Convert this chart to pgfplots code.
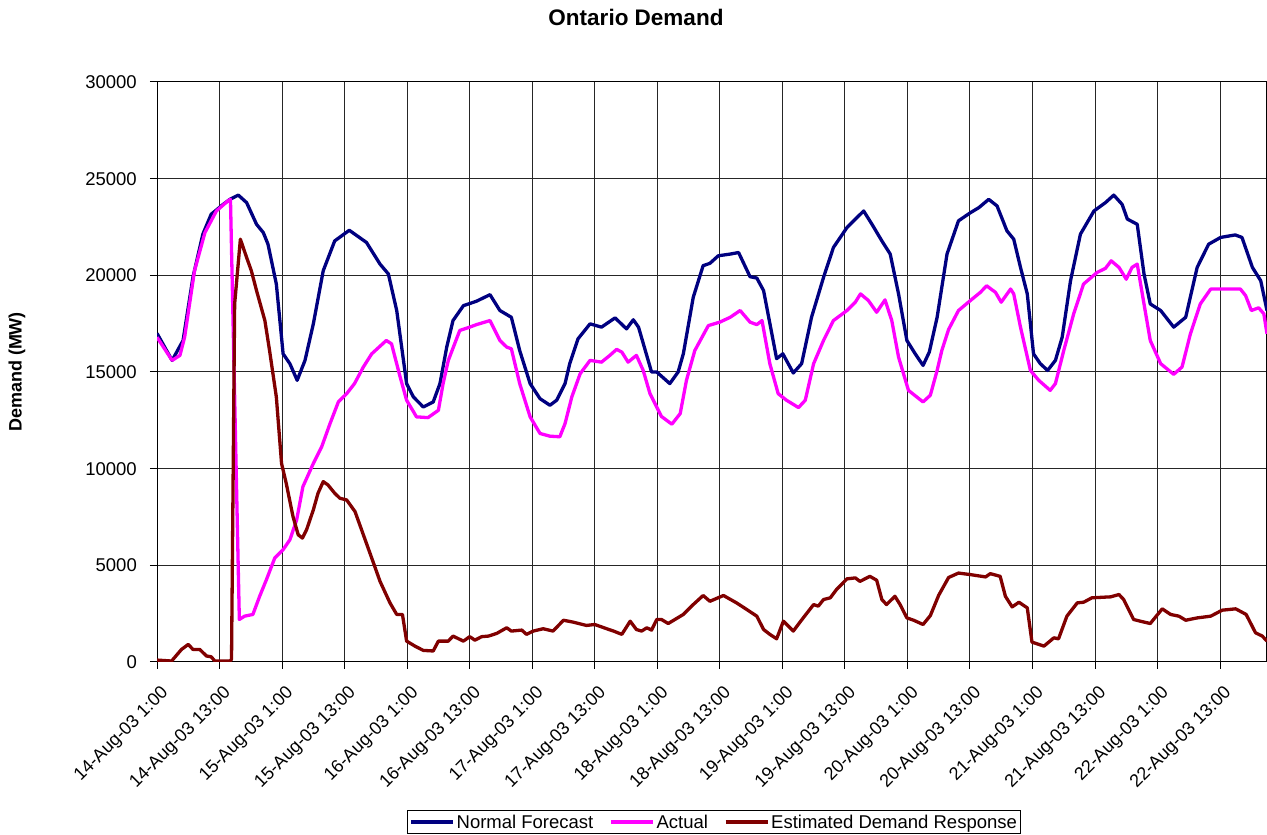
\documentclass[border=0pt]{standalone}
\usepackage{fontspec}
\setmainfont{Liberation Sans}
\usepackage{pgfplots}
\pgfplotsset{compat=1.18}
\definecolor{nf}{RGB}{0,0,128}
\definecolor{act}{RGB}{255,0,255}
\definecolor{edr}{RGB}{128,0,0}
\newcommand\tickfont{\fontsize{18.5}{22}\selectfont}
\newcommand\xtickfont{\fontsize{18}{22}\selectfont}
\begin{document}
\begin{tikzpicture}
\begin{axis}[
  at={(157pt,173pt)}, anchor=south west,
  width=1110pt, height=580pt, scale only axis,
  xmin=0, xmax=213, ymin=0, ymax=30000,
  xtick={0,12,...,204},
  xticklabels={14-Aug-03 1:00,14-Aug-03 13:00,15-Aug-03 1:00,15-Aug-03 13:00,16-Aug-03 1:00,16-Aug-03 13:00,17-Aug-03 1:00,17-Aug-03 13:00,18-Aug-03 1:00,18-Aug-03 13:00,19-Aug-03 1:00,19-Aug-03 13:00,20-Aug-03 1:00,20-Aug-03 13:00,21-Aug-03 1:00,21-Aug-03 13:00,22-Aug-03 1:00,22-Aug-03 13:00},
  ytick={0,5000,...,30000},
  scaled y ticks=false,
  /pgf/number format/1000 sep={},
  /pgf/number format/assume math mode=true,
  yticklabel style={font=\tickfont, anchor=east, inner sep=0pt, xshift=-13pt},
  xticklabel style={font=\xtickfont, rotate=45, anchor=north east, inner sep=1pt, xshift=-8pt, yshift=-12pt},
  tick align=outside, tick pos=left, major tick length=7pt,
  tick style={black, line width=1pt},
  grid=major, major grid style={black!85, line width=1pt},
  axis line style={black, line width=1pt},
  legend style={at={(0.502,-0.276)}, anchor=center, legend columns=3,
    font=\tickfont, draw=black, line width=1pt, inner sep=2pt,
    /tikz/every even column/.append style={column sep=14pt}},
  legend image code/.code={\draw[#1, line width=3.2pt] (0pt,0pt) -- (42pt,0pt);},
  every axis plot/.append style={line width=3.3pt, line join=round},
]
\addplot[nf] coordinates {(0,17000) (2.9,15600) (5,16630) (6.9,19900) (8.8,22130) (10.4,23160) (12.7,23670) (14,23930) (15.6,24150) (17.2,23760) (19.1,22640) (20.4,22210) (21.3,21610) (22.9,19550) (24.2,15940) (25.5,15430) (26.9,14570) (28.4,15600) (30,17490) (31.9,20240) (34.1,21780) (36.9,22330) (40.2,21700) (42.8,20580) (44.4,20070) (46,18180) (47.9,14400) (49.2,13710) (51.1,13190) (53,13450) (54.3,14400) (55.6,16290) (56.8,17660) (58.8,18430) (61.3,18660) (63.9,19000) (65.8,18180) (68,17830) (69.6,16110) (71.6,14400) (73.5,13620) (75.4,13280) (76.7,13540) (78.3,14400) (79.2,15430) (80.8,16720) (83.1,17490) (85.3,17320) (87.9,17800) (90.1,17230) (91.4,17700) (92.4,17320) (94.9,15000) (95.9,15000) (98.4,14400) (100,15000) (101,15940) (102.9,18860) (104.8,20500) (106.1,20620) (107.7,21010) (110,21100) (111.6,21180) (113.8,19930) (115.1,19860) (116.4,19210) (118.9,15690) (120.1,15940) (122.1,14950) (123.7,15430) (125.6,17830) (127.9,19890) (129.8,21440) (132.4,22470) (135.6,23330) (137.2,22640) (139.1,21780) (140.7,21100) (142.3,19040) (143.9,16630) (145.5,15940) (147,15340) (148.2,16030) (149.7,17830) (151.6,21100) (153.8,22820) (156.1,23240) (157.7,23500) (159.6,23930) (161.2,23590) (163.1,22300) (164.4,21870) (165.7,20410) (167,19040) (168.2,15940) (169.5,15430) (170.9,15080) (172.4,15600) (173.7,16800) (175.3,19720) (177.2,22130) (179.8,23330) (182,23760) (183.6,24150) (185.2,23670) (186.2,22910) (188.1,22640) (189.4,20070) (190.6,18520) (192.6,18180) (195.1,17320) (197.4,17830) (199.6,20410) (201.8,21610) (204.1,21960) (206.9,22090) (208.2,21960) (210.2,20410) (211.8,19720) (213,18180)};
\addlegendentry{Normal Forecast}
\addplot[act] coordinates {(0,16800) (2.9,15600) (4.4,15860) (5.3,16800) (7.2,20240) (9.2,22210) (11.4,23330) (13.6,23850) (14.1,23930) (15.8,2200) (16.8,2370) (18.4,2460) (19.7,3400) (21,4260) (22.6,5380) (24.2,5810) (25.5,6320) (26.8,7350) (28,9070) (30,10270) (31.6,11130) (33.2,12330) (34.8,13450) (36.4,13880) (37.9,14400) (39.6,15260) (41.2,15940) (44,16630) (45,16460) (46.6,14800) (47.9,13540) (49.8,12680) (52,12640) (54,13020) (54.9,14400) (55.9,15600) (58.1,17150) (60,17320) (61.3,17450) (63.9,17660) (65.8,16630) (67.1,16290) (68,16200) (69.6,14400) (71.6,12680) (73.5,11820) (75.4,11680) (77.3,11650) (78.3,12330) (79.6,13710) (81.2,14910) (83.1,15600) (85.3,15510) (86.9,15860) (88.2,16170) (89.2,16030) (90.4,15510) (92,15860) (93.3,15080) (94.6,13880) (96.8,12700) (98.8,12300) (100.4,12850) (101.6,14570) (103.2,16110) (105.8,17400) (108,17580) (110,17830) (111.9,18180) (113.8,17580) (115.1,17450) (116.1,17660) (117.6,15430) (119.2,13880) (120.8,13540) (123.1,13160) (124.4,13540) (126,15430) (127.9,16630) (129.8,17660) (132.4,18180) (134,18610) (135,19040) (136.5,18700) (138.1,18090) (139.7,18730) (141,17660) (142.3,15770) (144.2,14050) (147,13450) (148.4,13800) (149.7,15080) (150.6,16110) (151.9,17200) (153.8,18180) (156.1,18700) (158,19120) (159.2,19460) (160.9,19120) (162,18610) (163.8,19290) (164.4,19040) (165.7,17320) (167.6,15080) (169.2,14570) (171.4,14050) (172.4,14400) (174,16110) (175.9,18000) (177.8,19550) (180.4,20150) (182,20360) (183.1,20750) (184.6,20410) (186,19800) (187.1,20410) (188.1,20580) (189.4,18520) (190.6,16630) (192.6,15430) (195.1,14880) (196.7,15260) (198.3,16970) (200.2,18520) (202.2,19290) (204.7,19290) (207.9,19290) (208.9,18950) (210,18180) (211.4,18320) (212.4,18010) (213,16970)};
\addlegendentry{Actual}
\addplot[edr] coordinates {(0,100) (2.8,50) (4.7,650) (6,910) (6.9,650) (8.2,650) (9.5,310) (10.4,270) (11.1,50) (14,50) (14.3,140) (14.9,18520) (16,21870) (17.2,20920) (18.1,20240) (19.1,19210) (20.7,17660) (21.6,16110) (22.9,13710) (23.9,10270) (24.8,9240) (26.1,7520) (27.1,6580) (27.9,6410) (28.7,6840) (30,7870) (30.9,8730) (31.9,9330) (32.8,9160) (34.1,8730) (35.1,8470) (36.4,8380) (38,7780) (39.6,6580) (41.2,5380) (42.8,4170) (44.7,3060) (46,2460) (47.1,2460) (47.9,1080) (49.5,820) (51.1,600) (53,570) (54,1080) (55.9,1080) (56.8,1340) (58.8,1080) (60,1310) (61,1130) (62.3,1310) (63.6,1340) (65.2,1480) (67.1,1770) (68,1600) (70,1650) (70.9,1430) (72.2,1600) (74.1,1720) (76,1600) (78,2160) (79.9,2060) (82.4,1890) (84,1940) (86.3,1720) (87.6,1600) (89.2,1430) (90.8,2110) (92,1680) (93,1600) (94,1770) (94.9,1650) (95.9,2200) (96.8,2200) (98.1,1990) (101,2460) (102.9,2970) (104.8,3440) (106.1,3140) (108.7,3440) (111.2,3060) (113.2,2710) (115.1,2370) (116.4,1680) (117.6,1430) (118.9,1200) (120.2,2110) (122.1,1600) (124,2280) (126,2970) (126.9,2890) (127.9,3230) (129.2,3320) (130.4,3750) (132.4,4300) (134,4350) (134.9,4170) (136.8,4430) (138.1,4230) (139.1,3230) (140,2970) (141.6,3400) (142.6,2970) (143.9,2280) (145.2,2160) (147,1940) (148.4,2400) (150,3450) (151.9,4370) (153.8,4600) (156.1,4520) (159,4400) (159.9,4570) (161.8,4430) (162.8,3400) (164.1,2850) (165.4,3090) (167,2800) (167.9,1030) (170.2,820) (172.1,1250) (173,1200) (174.6,2370) (176.6,3060) (177.8,3090) (179.4,3320) (183,3370) (184.6,3490) (185.5,3230) (187.4,2200) (188.7,2110) (190.6,1990) (192.9,2750) (194.5,2460) (196.1,2370) (197.4,2160) (199.6,2280) (202.2,2370) (204.4,2680) (207,2750) (209,2460) (210.8,1510) (212.1,1340) (213,1080)};
\addlegendentry{Estimated Demand Response}
\end{axis}
\node[font=\fontsize{22.5}{27}\selectfont\bfseries] at (636pt,818pt) {Ontario Demand};
\node[font=\fontsize{18}{22}\selectfont\bfseries, rotate=90] at (17pt,463pt) {Demand (MW)};
\pgfresetboundingbox
\path[use as bounding box] (0pt,0pt) rectangle (1267pt,835pt);
\end{tikzpicture}
\end{document}
